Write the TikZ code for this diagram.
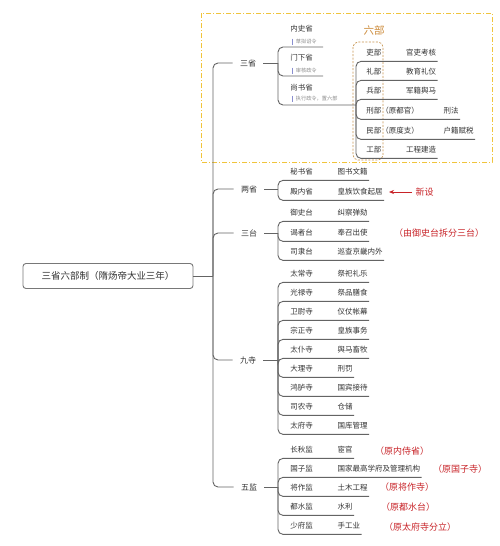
\documentclass[tikz,border=0pt]{standalone}
\usepackage{fontspec}
\setmainfont{Noto Sans CJK SC}
\usetikzlibrary{positioning,arrows.meta}

\tikzset{every picture/.style={line width=0.75pt}}
\tikzset{
	branch/.style={draw={rgb, 255:red, 100; green, 100; blue, 100}, line width=0.9pt, rounded corners=5pt},
	rootbox/.style={draw={rgb, 255:red, 120; green, 120; blue, 120}, line width=0.9pt, rounded corners=3pt, fill=white, minimum width=170pt, minimum height=25pt, font=\fontsize{9.5}{11}\selectfont, text={rgb, 255:red, 51; green, 51; blue, 51}},
	topic/.style={font=\fontsize{8}{10}\selectfont, text={rgb, 255:red, 51; green, 51; blue, 51}, minimum width=30pt, inner xsep=0pt},
	item/.style={font=\fontsize{7.5}{9}\selectfont, text={rgb, 255:red, 51; green, 51; blue, 51}, inner xsep=1pt, inner ysep=4pt, text height=6.5pt, text depth=1.5pt},
	office/.style={item, anchor=west},
	note/.style={font=\fontsize{5.2}{6}\selectfont, text={rgb, 255:red, 140; green, 140; blue, 140}, inner sep=0.5pt, anchor=west},
	notebar/.style={draw={rgb, 255:red, 138; green, 143; blue, 208}, line width=1pt},
	remark/.style={font=\fontsize{9}{11}\selectfont, text={rgb, 255:red, 200; green, 35; blue, 40}},
}

\begin{document}
\begin{tikzpicture}[x=1pt,y=1pt,yscale=-1,xscale=1]
	\useasboundingbox (0,0) rectangle (500,546);
	\fill[white] (0,0) rectangle (500,546);

	%Shape: Rectangle (frame of the three departments)
	\draw [draw={rgb, 255:red, 240; green, 196; blue, 60}, line width=0.8pt, dash pattern={on 5pt off 2pt on 1pt off 2pt}] (201,13) rectangle (492,162);
	%Shape: Rectangle (six ministries)
	\draw [draw={rgb, 255:red, 200; green, 150; blue, 80}, line width=0.7pt, dash pattern={on 2pt off 1.5pt}, rounded corners=5pt] (353,42) rectangle (383,160);

	% Text Node
	\node[rootbox] (root) at (108,276) {三省六部制（隋炀帝大业三年）};
	\coordinate (jmain) at (213,276);
	\draw[branch] (root.east) -- (jmain);

	% Text Node
	\node[topic] (sansheng) at (248,63) {三省};
	\node[topic] (liangsheng) at (249,189) {两省};
	\node[topic] (santai) at (249,233) {三台};
	\node[topic] (jiusi) at (248,360) {九寺};
	\node[topic] (wujian) at (249,487) {五监};
	\draw[branch] (jmain) |- (sansheng.west);
	\draw[branch] (jmain) |- (liangsheng.west);
	\draw[branch] (jmain) |- (santai.west);
	\draw[branch] (jmain) |- (jiusi.west);
	\draw[branch] (jmain) |- (wujian.west);

	\coordinate (j1) at (278,63);
	\coordinate (j2) at (278,189);
	\coordinate (j3) at (278,233);
	\coordinate (j4) at (278,360);
	\coordinate (j5) at (278,487);
	\draw[branch] (sansheng.east) -- (j1);
	\draw[branch] (liangsheng.east) -- (j2);
	\draw[branch] (santai.east) -- (j3);
	\draw[branch] (jiusi.east) -- (j4);
	\draw[branch] (wujian.east) -- (j5);

	%三省
	\node[office] (neishi) at (289,29) {内史省};
	\node[note] (neishiN) at (295,42) {草拟诏令};
	\node[office] (menxia) at (289,58) {门下省};
	\node[note] (menxiaN) at (295,71) {审核政令};
	\node[office] (shangshu) at (289,88) {尚书省};
	\node[note] (shangshuN) at (295,99) {执行政令，置六部};
	\draw[notebar] ([xshift=-3pt]neishiN.north west) -- ([xshift=-3pt]neishiN.south west);
	\draw[notebar] ([xshift=-3pt]menxiaN.north west) -- ([xshift=-3pt]menxiaN.south west);
	\draw[notebar] ([xshift=-3pt]shangshuN.north west) -- ([xshift=-3pt]shangshuN.south west);
	\coordinate (neishiE) at (323,47);
	\coordinate (menxiaE) at (323,76);
	\coordinate (j6) at (356,105);
	\draw[branch] (j1) |- (neishiE);
	\draw[branch] (j1) |- (menxiaE);
	\draw[branch] (j1) |- (j6);

	%六部
	\node[font=\fontsize{10.5}{12}\selectfont, text={rgb, 255:red, 205; green, 140; blue, 60}] (liubu) at (374,30) {六部};
	\node[office] (li1) at (365,53) {吏部};
	\node[item, right=22pt of li1] (li1D) {官吏考核};
	\node[office] (li2) at (365,72) {礼部};
	\node[item, right=22pt of li2] (li2D) {教育礼仪};
	\node[office] (bing) at (365,91) {兵部};
	\node[item, right=22pt of bing] (bingD) {军籍舆马};
	\node[office] (xing) at (365,111) {刑部（原都官）};
	\node[item, right=22pt of xing] (xingD) {刑法};
	\node[office] (min) at (365,131) {民部（原度支）};
	\node[item, right=22pt of min] (minD) {户籍赋税};
	\node[office] (gong) at (365,150) {工部};
	\node[item, right=22pt of gong] (gongD) {工程建造};
	\draw[branch] (j6) |- (li1D.south east);
	\draw[branch] (j6) |- (li2D.south east);
	\draw[branch] (j6) |- (bingD.south east);
	\draw[branch] (j6) |- (xingD.south east);
	\draw[branch] (j6) |- (minD.south east);
	\draw[branch] (j6) |- (gongD.south east);

	%两省
	\node[office] (mishu) at (289,172) {秘书省};
	\node[item, right=22pt of mishu] (mishuD) {图书文籍};
	\node[office] (diannei) at (289,192) {殿内省};
	\node[item, right=22pt of diannei] (dianneiD) {皇族饮食起居};
	\draw[branch] (j2) |- (mishuD.south east);
	\draw[branch] (j2) |- (dianneiD.south east);
	\node[remark, anchor=west] (xinshe) at (412,192) {新设};
	\draw[-{Stealth[length=5pt,width=4pt]}, draw={rgb, 255:red, 200; green, 35; blue, 40}, line width=0.7pt] (xinshe.west) -- ([xshift=5pt]dianneiD.east);

	%三台
	\node[office] (yushi) at (289,213) {御史台};
	\node[item, right=22pt of yushi] (yushiD) {纠察弹劾};
	\node[office] (yezhe) at (289,233) {谒者台};
	\node[item, right=22pt of yezhe] (yezheD) {奉召出使};
	\node[office] (sili) at (289,252) {司隶台};
	\node[item, right=22pt of sili] (siliD) {巡查京畿内外};
	\draw[branch] (j3) |- (yushiD.south east);
	\draw[branch] (j3) |- (yezheD.south east);
	\draw[branch] (j3) |- (siliD.south east);
	\node[remark] (chaifen) at (439,233) {（由御史台拆分三台）};

	%九寺
	\node[office] (taichang) at (289,274) {太常寺};
	\node[item, right=22pt of taichang] (taichangD) {祭祀礼乐};
	\node[office] (guanglu) at (289,293) {光禄寺};
	\node[item, right=22pt of guanglu] (guangluD) {祭品膳食};
	\node[office] (weiwei) at (289,312) {卫尉寺};
	\node[item, right=22pt of weiwei] (weiweiD) {仪仗帐幕};
	\node[office] (zongzheng) at (289,331) {宗正寺};
	\node[item, right=22pt of zongzheng] (zongzhengD) {皇族事务};
	\node[office] (taipu) at (289,350) {太仆寺};
	\node[item, right=22pt of taipu] (taipuD) {舆马畜牧};
	\node[office] (dali) at (289,369) {大理寺};
	\node[item, right=22pt of dali] (daliD) {刑罚};
	\node[office] (honglu) at (289,388) {鸿胪寺};
	\node[item, right=22pt of honglu] (hongluD) {国宾接待};
	\node[office] (sinong) at (289,407) {司农寺};
	\node[item, right=22pt of sinong] (sinongD) {仓储};
	\node[office] (taifu) at (289,426) {太府寺};
	\node[item, right=22pt of taifu] (taifuD) {国库管理};
	\draw[branch] (j4) |- (taichangD.south east);
	\draw[branch] (j4) |- (guangluD.south east);
	\draw[branch] (j4) |- (weiweiD.south east);
	\draw[branch] (j4) |- (zongzhengD.south east);
	\draw[branch] (j4) |- (taipuD.south east);
	\draw[branch] (j4) |- (daliD.south east);
	\draw[branch] (j4) |- (hongluD.south east);
	\draw[branch] (j4) |- (sinongD.south east);
	\draw[branch] (j4) |- (taifuD.south east);

	%五监
	\node[office] (changqiu) at (289,450) {长秋监};
	\node[item, right=22pt of changqiu] (changqiuD) {宦官};
	\node[office] (guozi) at (289,469) {国子监};
	\node[item, right=22pt of guozi] (guoziD) {国家最高学府及管理机构};
	\node[office] (jiangzuo) at (289,488) {将作监};
	\node[item, right=22pt of jiangzuo] (jiangzuoD) {土木工程};
	\node[office] (dushui) at (289,507) {都水监};
	\node[item, right=22pt of dushui] (dushuiD) {水利};
	\node[office] (shaofu) at (289,526) {少府监};
	\node[item, right=22pt of shaofu] (shaofuD) {手工业};
	\draw[branch] (j5) |- (changqiuD.south east);
	\draw[branch] (j5) |- (guoziD.south east);
	\draw[branch] (j5) |- (jiangzuoD.south east);
	\draw[branch] (j5) |- (dushuiD.south east);
	\draw[branch] (j5) |- (shaofuD.south east);

	% Text Node
	\node[remark] (yuanneishi) at (402,451) {（原内侍省）};
	\node[remark] (yuanguozi) at (460,469) {（原国子寺）};
	\node[remark] (yuanjiangzuo) at (407,487) {（原将作寺）};
	\node[remark] (yuandushui) at (408,507) {（原都水台）};
	\node[remark] (yuantaifu) at (420,527) {（原太府寺分立）};

\end{tikzpicture}
\end{document}
